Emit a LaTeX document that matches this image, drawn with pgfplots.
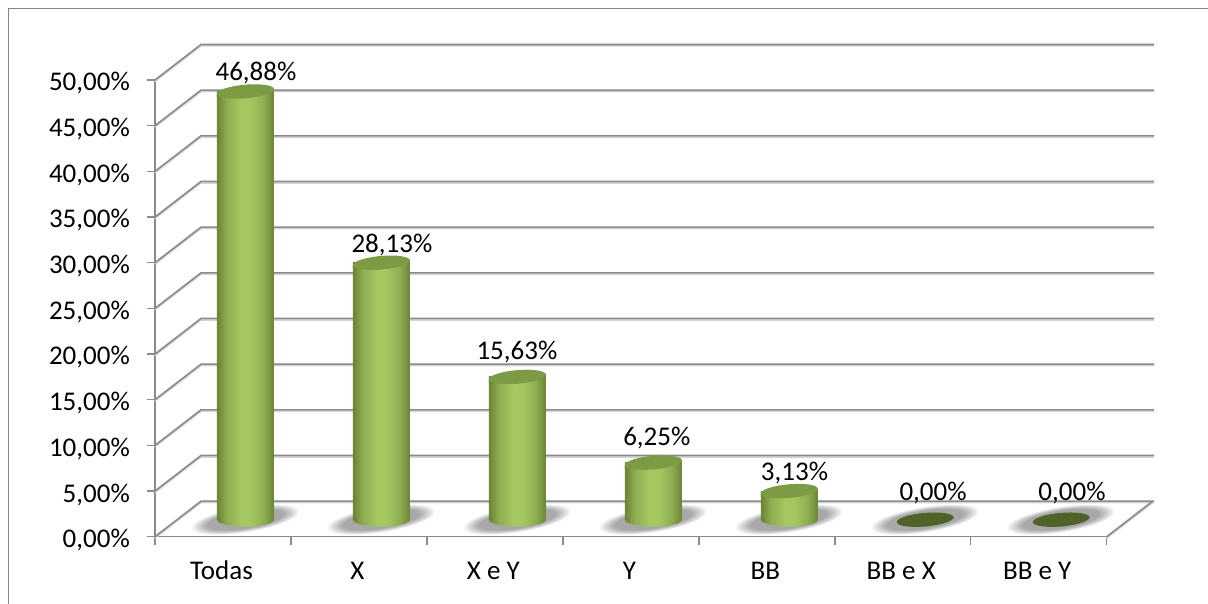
\documentclass[border=0pt]{standalone}
\usepackage{fontspec}
\setmainfont{Carlito}
\usepackage{pgfplots}
\usepackage{pgfplotstable}
\pgfplotsset{compat=1.18}

\definecolor{gridgray}{HTML}{8A8A8A}
\definecolor{gridsoft}{HTML}{D4D4D4}
\definecolor{framegray}{HTML}{868686}
\definecolor{capgreen}{HTML}{7D9A45}
\definecolor{diskgreen}{HTML}{4F6228}
\definecolor{cylA}{HTML}{6B8435}
\definecolor{cylB}{HTML}{8FAE52}
\definecolor{cylC}{HTML}{A5C760}

% horizontal light across a cylinder body
\pgfdeclarehorizontalshading{cylbody}{100bp}{
  color(0bp)=(cylA);
  color(25bp)=(cylA);
  color(34bp)=(cylB);
  color(46bp)=(cylC);
  color(54bp)=(cylC);
  color(66bp)=(cylB);
  color(75bp)=(cylA);
  color(100bp)=(cylA)}

% cylinder top: a short neck under the tilted rim, then the rim itself
\pgfdeclareplotmark{cyltop}{%
  \pgfpathmoveto{\pgfqpoint{-28.5pt}{-6pt}}%
  \pgfpathlineto{\pgfqpoint{-28.5pt}{-2.4pt}}%
  \pgfpathlineto{\pgfqpoint{28.5pt}{2.4pt}}%
  \pgfpathlineto{\pgfqpoint{28.5pt}{-6pt}}%
  \pgfpathclose
  \pgfshadepath{cylbody}{0}%
  \pgfusepath{discard}%
  \pgftransformrotate{5}%
  \pgfpathellipse{\pgfpointorigin}{\pgfqpoint{28.6pt}{0pt}}{\pgfqpoint{0pt}{6.8pt}}%
  \pgfusepathqfill}
% lower half of the cylinder foot
\pgfdeclareplotmark{cylbase}{%
  \pgfpathmoveto{\pgfqpoint{-28.5pt}{0.5pt}}%
  \pgfpathlineto{\pgfqpoint{-28.5pt}{0pt}}%
  \pgfpatharc{180}{360}{28.5pt and 7pt}%
  \pgfpathlineto{\pgfqpoint{28.5pt}{0.5pt}}%
  \pgfpathclose
  \pgfshadepath{cylbody}{0}%
  \pgfusepath{discard}}
% flat disk for an empty category
\pgfdeclareplotmark{flatdisk}{%
  \pgftransformrotate{5}%
  \pgfpathellipse{\pgfpointorigin}{\pgfqpoint{28.5pt}{0pt}}{\pgfqpoint{0pt}{6.8pt}}%
  \pgfusepathqfill}
\pgfdeclareplotmark{floorshadow}{%
  \pgftransformrotate{9}%
  \pgfpathellipse{\pgfpointorigin}{\pgfqpoint{54pt}{0pt}}{\pgfqpoint{0pt}{12.5pt}}%
  \pgfusepathqfill}

\pgfplotstableread{
x v dx dy
0 46.88 33.0 35.5
1 28.13 33.0 34.5
2 15.63 22.0 41.5
3 6.25 26.0 41.5
4 3.13 27.7 35.5
5 0.00 30.3 43.5
6 0.00 33.3 43.5
}\shares

\begin{document}
\begin{tikzpicture}[x=1pt,y=1pt]
\useasboundingbox (0,0) rectangle (1208,604);
\draw[framegray,line width=1.5pt] (8.5,0) -- (8.5,595.5) -- (1208,595.5);
\begin{axis}[
  at={(155pt,67.3pt)}, anchor=south west,
  scale only axis, width=951.7pt, height=456.7pt,
  xmin=-0.5, xmax=6.5, ymin=0, ymax=50,
  clip=false, clip mode=individual,
  axis x line*=bottom, axis y line*=left,
  axis line style={-,gridgray,line width=1.5pt},
  tick align=outside,
  tick style={gridgray,line width=1.5pt},
  major tick length=8pt, minor tick length=8pt,
  xtick={0,...,6},
  xticklabels={Todas,X,X e Y,Y,BB,BB e X,BB e Y},
  minor xtick={-0.5,0.5,...,6.5},
  x tick style={draw=none},
  minor x tick style={draw=gridgray,line width=1.5pt},
  ytick={0,5,...,50},
  yticklabel={\pgfmathprintnumber[fixed,fixed zerofill,precision=2,use comma,assume math mode=true]{\tick}\%},
  tick label style={font=\fontsize{27}{30}\selectfont},
  xticklabel style={anchor=base,yshift=-35pt,xshift=-1.5pt},
  yticklabel style={anchor=east,inner sep=0pt,xshift=-17pt,yshift=-3.5pt},
]
% wall and floor rules, running back from the front plane
\pgfplotsinvokeforeach{0,5,...,50}{
  \draw[gridsoft,line width=1.5pt] ([yshift=-1.5pt]axis cs:-0.5,#1) -- ++(46pt,35.5pt) -- ++(953pt,0pt);
  \draw[gridgray,line width=1.6pt] (axis cs:-0.5,#1) -- ++(46pt,35.5pt) -- ++(953pt,0pt);
}
\draw[gridsoft,line width=1.5pt] ([yshift=-1.5pt]axis cs:6.5,0) -- ++(46pt,35.5pt);
\draw[gridgray,line width=1.6pt] (axis cs:6.5,0) -- ++(46pt,35.5pt);

% soft shadows on the floor
\pgfplotsinvokeforeach{1.0,0.96,0.92,0.88,0.84,0.80,0.76,0.72}{
  \addplot[only marks,mark=floorshadow,xshift=22.5pt,yshift=17pt,
    mark options={scale=#1,draw=none,fill=black,fill opacity=0.05}]
    table[x=x,y expr=0]{\shares};
}

% cylinders, one shaded body per category
\pgfplotsinvokeforeach{0,1,2,3,4}{
  \addplot[ybar,bar width=57pt,bar shift=0pt,draw=none,shading=cylbody,
    xshift=22.5pt,yshift=17pt,restrict x to domain=#1:#1]
    table[x=x,y=v]{\shares};
  \addplot[only marks,mark=cylbase,xshift=22.5pt,yshift=17pt,
    mark options={draw=none},restrict x to domain=#1:#1]
    table[x=x,y expr=0]{\shares};
  \addplot[only marks,mark=cyltop,xshift=22.5pt,yshift=17pt,
    mark options={draw=none,fill=capgreen},restrict x to domain=#1:#1]
    table[x=x,y=v]{\shares};
}
\addplot[only marks,mark=flatdisk,xshift=22.5pt,yshift=17pt,
  mark options={draw=none,fill=diskgreen},restrict x to domain=5:6]
  table[x=x,y=v]{\shares};

% value labels
\addplot[draw=none,mark=none,
  visualization depends on=\thisrow{dx}\as\ldx,
  visualization depends on=\thisrow{dy}\as\ldy,
  point meta=y,
  nodes near coords={\pgfmathprintnumber[fixed,fixed zerofill,precision=2,use comma,assume math mode=true]{\pgfplotspointmeta}\%},
  every node near coord/.append style={anchor=center,inner sep=0pt,
    font=\fontsize{27}{30}\selectfont,xshift=\ldx pt,yshift=\ldy pt},
] table[x=x,y=v]{\shares};
\end{axis}
\end{tikzpicture}
\end{document}
